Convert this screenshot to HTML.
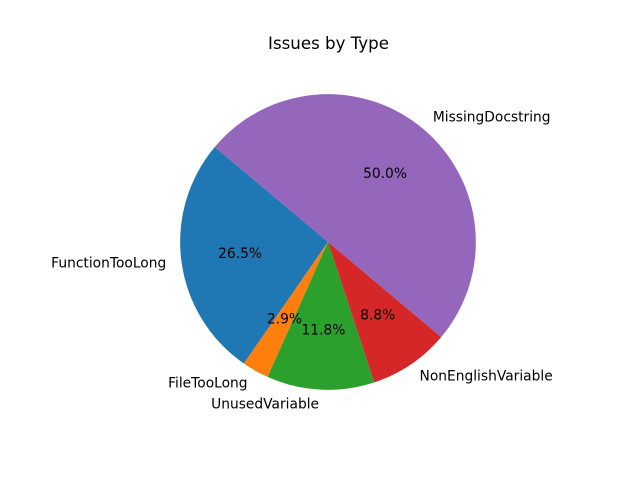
<!DOCTYPE html>
<html>
<head>
<meta charset="utf-8">
<title>Issues by Type</title>
<style>
  html, body { margin: 0; padding: 0; background: #fff; }
  svg { display: block; }
  text { font-family: "DejaVu Sans", "Liberation Sans", sans-serif; fill: #000; }
</style>
</head>
<body>
<svg id="chart" xmlns="http://www.w3.org/2000/svg" width="640" height="480" viewBox="0 0 640 480">
  <rect x="0" y="0" width="640" height="480" fill="#ffffff"></rect>
  <text x="328.5" y="49" text-anchor="middle" font-size="16.65">Issues by Type</text>
</svg>
<script>
const categories = ["FunctionTooLong", "FileTooLong", "UnusedVariable", "NonEnglishVariable", "MissingDocstring"];
const issueCounts = [9, 1, 4, 3, 17];
const startAngle = 140;
const palette = ["#1f77b4", "#ff7f0e", "#2ca02c", "#d62728", "#9467bd"];

const svg = document.getElementById('chart');
const NS = 'http://www.w3.org/2000/svg';
const cx = 328, cy = 242, radius = 147.84;
const total = issueCounts.reduce(function (a, b) { return a + b; }, 0);

function angleScale(cumulative) {
  return startAngle + (cumulative / total) * 360;
}
function polar(angleDeg, r) {
  const t = angleDeg * Math.PI / 180;
  return [cx + r * Math.cos(t), cy - r * Math.sin(t)];
}
function slugify(s) {
  return s.replace(/([a-z])([A-Z])/g, '$1-$2').toLowerCase();
}

let cumulative = 0;
const overlays = [];
issueCounts.forEach(function (value, i) {
  const a0 = angleScale(cumulative);
  const a1 = angleScale(cumulative + value);
  cumulative += value;
  const p0 = polar(a0, radius);
  const p1 = polar(a1, radius);
  const large = (a1 - a0) > 180 ? 1 : 0;

  const path = document.createElementNS(NS, 'path');
  path.setAttribute('d', 'M' + cx + ' ' + cy + ' L' + p0[0] + ' ' + p0[1] +
    ' A' + radius + ' ' + radius + ' 0 ' + large + ' 0 ' + p1[0] + ' ' + p1[1] + ' Z');
  path.setAttribute('fill', palette[i % palette.length]);
  
  
  svg.appendChild(path);

  overlays.push({ mid: (a0 + a1) / 2, value: value, name: categories[i] });
});

overlays.forEach(function (o) {
  const lp = polar(o.mid, radius * 1.1);
  const isRight = lp[0] > cx;
  const label = document.createElementNS(NS, 'text');
  label.textContent = o.name;
  label.setAttribute('x', isRight ? lp[0] + 0.3 : lp[0] - 0.6);
  label.setAttribute('y', lp[1] + 4);
  label.setAttribute('font-size', '13.8');
  label.setAttribute('text-anchor', isRight ? 'start' : 'end');
  
  
  svg.appendChild(label);

  const pp = polar(o.mid, radius * 0.6);
  const pct = document.createElementNS(NS, 'text');
  pct.textContent = (o.value / total * 100).toFixed(1) + '%';
  pct.setAttribute('x', pp[0]);
  pct.setAttribute('y', pp[1] + 4);
  pct.setAttribute('font-size', '13.8');
  pct.setAttribute('text-anchor', 'middle');
  
  
  svg.appendChild(pct);
});
</script>
</body>
</html>
